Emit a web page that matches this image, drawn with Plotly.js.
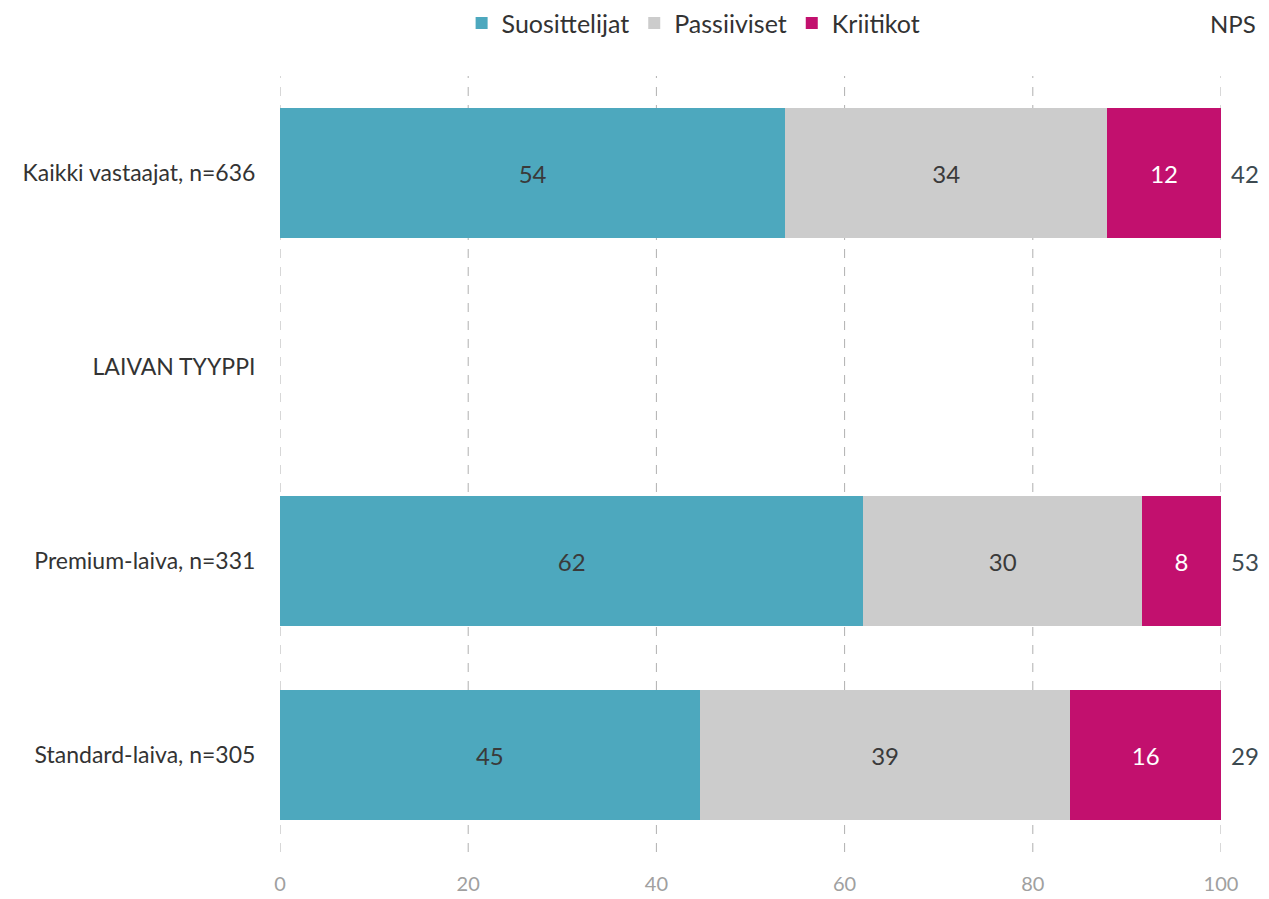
<!DOCTYPE html>
<html>
<head>
<meta charset="utf-8">
<script src="https://cdn.plot.ly/plotly-3.0.1.min.js"></script>
<style>html,body{margin:0;padding:0;background:#fff;}#chart{width:1269px;height:899px;}</style>
</head>
<body>
<div id="chart"></div>
<script>
const categories = ["Kaikki vastaajat, n=636", "LAIVAN TYYPPI", "Premium-laiva, n=331", "Standard-laiva, n=305"];
const suosittelijat = [53.7, null, 62.0, 44.6];
const passiiviset = [34.2, null, 29.6, 39.4];
const kriitikot = [12.1, null, 8.4, 16.0];
const suosLabels = ["54", "", "62", "45"];
const passLabels = ["34", "", "30", "39"];
const kriitLabels = ["12", "", "8", "16"];
const nps = [42, null, 53, 29];
const xTicks = [0, 20, 40, 60, 80, 100];

const FONT = "Lato, 'Open Sans', sans-serif";
const common = {type: "bar", orientation: "h", y: categories, width: 0.67,
  textposition: "inside", insidetextanchor: "middle", hoverinfo: "none",
  marker: {line: {width: 0}}};

const traces = [
  Object.assign({}, common, {name: "Suosittelijat", x: suosittelijat, text: suosLabels,
    marker: {color: "#4DA8BE"}, textfont: {color: "#3a3a3a", size: 24, family: FONT}}),
  Object.assign({}, common, {name: "Passiiviset", x: passiiviset, text: passLabels,
    marker: {color: "#CCCCCC"}, textfont: {color: "#3a3a3a", size: 24, family: FONT}}),
  Object.assign({}, common, {name: "Kriitikot", x: kriitikot, text: kriitLabels,
    marker: {color: "#C2106E"}, textfont: {color: "#ffffff", size: 24, family: FONT}})
];

const annotations = [{
  text: "NPS", xref: "paper", yref: "paper", x: 1.0, y: 1, xshift: 12, yshift: 53,
  xanchor: "center", yanchor: "middle", showarrow: false,
  font: {size: 24, color: "#333", family: FONT}
}];
categories.forEach((c, i) => {
  if (nps[i] !== null) {
    annotations.push({text: String(nps[i]), xref: "paper", yref: "y", x: 1.0, y: c,
      xshift: 24, xanchor: "center", yanchor: "middle", showarrow: false,
      font: {size: 24, color: "#3d4a50", family: FONT}});
  }
});

const shapes = xTicks.map(v => ({type: "line", xref: "x", yref: "paper", x0: v, x1: v, y0: 0, y1: 1,
  layer: "below", line: {color: "#b0b0b0", width: 1, dash: "dash"}}));

const layout = {
  width: 1269, height: 899,
  margin: {l: 280, r: 48, t: 76, b: 47, autoexpand: false},
  barmode: "stack", bargap: 0.33,
  paper_bgcolor: "#fff", plot_bgcolor: "#fff",
  font: {family: FONT, size: 20, color: "#333"},
  showlegend: true,
  legend: {orientation: "h", x: 0.193, xanchor: "left", y: 1.068, yanchor: "middle", yref: "paper",
    font: {size: 25, color: "#333", family: FONT}, itemwidth: 30, traceorder: "normal",
    bgcolor: "rgba(0,0,0,0)"},
  xaxis: {range: [0, 100], tickvals: xTicks, ticktext: xTicks.map(String),
    showgrid: false,
    zeroline: false, showline: false, ticks: "outside", ticklen: 14, tickcolor: "rgba(0,0,0,0)",
    tickfont: {size: 20, color: "#a0a0a0", family: FONT}, fixedrange: true},
  yaxis: {type: "category", autorange: "reversed", showgrid: false, zeroline: false,
    showline: false, ticks: "outside", ticklen: 19, tickcolor: "rgba(0,0,0,0)",
    tickfont: {size: 23, color: "#333", family: FONT}, fixedrange: true},
  shapes: shapes,
  annotations: annotations
};

Plotly.newPlot("chart", traces, layout, {displayModeBar: false, staticPlot: true});
</script>
</body>
</html>
